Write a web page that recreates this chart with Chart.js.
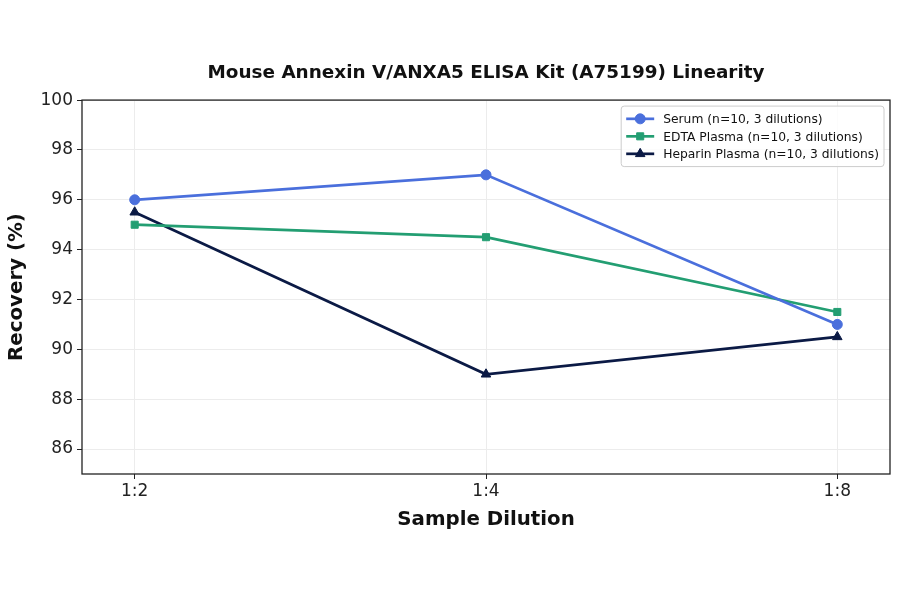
<!DOCTYPE html>
<html lang="en">
<head>
    <meta charset="UTF-8">
    <title>Mouse Annexin V/ANXA5 ELISA Kit (A75199) Linearity</title>
    <script src="https://cdn.jsdelivr.net/npm/chart.js@4.4.0/dist/chart.umd.min.js"></script>
    <style>
        body { margin: 0; background: #fff; }
        #wrap { width: 900px; height: 594px; }
    </style>
</head>
<body>
    <div id="wrap"><canvas id="linChart" width="900" height="594"></canvas></div>
    <script>
        'use strict';

        // dati
        const dilutions = ['1:2', '1:4', '1:8'];
        const serum = [96, 97, 91];
        const edtaPlasma = [95, 94.5, 91.5];
        const heparinPlasma = [95.5, 89, 90.5];
        const yTicks = [86, 88, 90, 92, 94, 96, 98, 100];
        const chartTitle = 'Mouse Annexin V/ANXA5 ELISA Kit (A75199) Linearity';

        const FONT = "'DejaVu Sans', sans-serif";

        const toPoints = vals => vals.map((v, i) => ({ x: i, y: v }));

        // titolo centrato sull'area dei dati (non su tutto il canvas)
        const centeredTitle = {
            id: 'centeredTitle',
            afterDraw(chart) {
                const a = chart.chartArea;
                const ctx = chart.ctx;
                ctx.save();
                ctx.font = 'bold 18.4px ' + FONT;
                ctx.fillStyle = '#111';
                ctx.textAlign = 'center';
                ctx.textBaseline = 'middle';
                ctx.fillText(chartTitle, (a.left + a.right) / 2, a.top - 27);
                ctx.restore();
            }
        };

        // legenda dentro l'area del grafico (alto a destra)
        const innerLegend = {
            id: 'innerLegend',
            afterDraw(chart) {
                const ctx = chart.ctx;
                const area = chart.chartArea;
                const sets = chart.data.datasets;
                ctx.save();
                ctx.font = '12.3px ' + FONT;
                let textW = 0;
                sets.forEach(d => { textW = Math.max(textW, ctx.measureText(d.label).width); });
                const rowH = 17.5;
                const boxW = 5 + 28 + 9 + textW + 5;
                const boxH = sets.length * rowH + 8;
                const bx = area.right - 6 - boxW;
                const by = area.top + 6;
                ctx.fillStyle = 'rgba(255,255,255,0.85)';
                ctx.strokeStyle = '#cccccc';
                ctx.lineWidth = 1;
                ctx.beginPath();
                ctx.roundRect(bx, by, boxW, boxH, 3);
                ctx.fill();
                ctx.stroke();
                sets.forEach((d, i) => {
                    const cy = by + 4 + rowH * i + rowH / 2;
                    const x0 = bx + 5, x1 = x0 + 28;
                    ctx.strokeStyle = d.borderColor;
                    ctx.lineWidth = d.borderWidth;
                    ctx.beginPath();
                    ctx.moveTo(x0, cy);
                    ctx.lineTo(x1, cy);
                    ctx.stroke();
                    ctx.fillStyle = d.backgroundColor;
                    ctx.strokeStyle = d.borderColor;
                    ctx.lineWidth = 1;
                    Chart.helpers.drawPoint(ctx, {
                        pointStyle: d.pointStyle,
                        radius: d.pointRadius,
                        borderWidth: 1
                    }, (x0 + x1) / 2, cy);
                    ctx.fillStyle = '#111';
                    ctx.textBaseline = 'middle';
                    ctx.textAlign = 'left';
                    ctx.fillText(d.label, x1 + 9, cy + 1);
                });
                ctx.restore();
            }
        };

        // cornice completa attorno all'area dei dati
        const frame = {
            id: 'frame',
            afterDatasetsDraw(chart) {
                const a = chart.chartArea;
                const ctx = chart.ctx;
                ctx.save();
                ctx.strokeStyle = '#222';
                ctx.lineWidth = 1.3;
                ctx.strokeRect(a.left, a.top, a.right - a.left, a.bottom - a.top);
                ctx.restore();
            }
        };

        const mkSet = (label, vals, color, style, r) => ({
            label: label,
            data: toPoints(vals),
            borderColor: color,
            backgroundColor: color,
            borderWidth: 2.7,
            pointStyle: style,
            pointRadius: r,
            pointHoverRadius: r,
            pointBorderWidth: 1,
            tension: 0
        });

        new Chart(document.getElementById('linChart').getContext('2d'), {
            type: 'line',
            data: {
                datasets: [
                    mkSet('Serum (n=10, 3 dilutions)', serum, '#4a6fdc', 'circle', 5),
                    mkSet('EDTA Plasma (n=10, 3 dilutions)', edtaPlasma, '#239e72', 'rect', 5),
                    mkSet('Heparin Plasma (n=10, 3 dilutions)', heparinPlasma, '#0b1a45', 'triangle', 5.5)
                ]
            },
            options: {
                responsive: false,
                animation: false,
                layout: { padding: { left: 0, right: 10, top: 0, bottom: 62 } },
                plugins: {
                    legend: { display: false },
                    tooltip: { enabled: false },
                    title: {
                        // riserva lo spazio; il testo lo disegna centeredTitle
                        display: true,
                        text: chartTitle,
                        color: 'rgba(0,0,0,0)',
                        font: { family: FONT, size: 18.4, weight: 'bold' },
                        padding: { top: 62, bottom: 16 }
                    }
                },
                scales: {
                    x: {
                        type: 'linear',
                        min: -0.15,
                        max: 2.15,
                        afterBuildTicks: s => { s.ticks = dilutions.map((_, i) => ({ value: i })); },
                        afterFit: s => { s.height = 58; },
                        ticks: {
                            callback: v => dilutions[v],
                            color: '#222',
                            font: { family: FONT, size: 17 },
                            padding: 2,
                            maxRotation: 0
                        },
                        grid: { color: '#ececec', tickColor: '#222', tickLength: 5, lineWidth: 1 },
                        border: { display: false },
                        title: {
                            display: true,
                            text: 'Sample Dilution',
                            color: '#111',
                            font: { family: FONT, size: 19.8, weight: 'bold' },
                            padding: { top: 8, bottom: 0 }
                        }
                    },
                    y: {
                        min: 85,
                        max: 100,
                        afterBuildTicks: s => { s.ticks = yTicks.map(v => ({ value: v })); },
                        afterFit: s => { s.width = 82; },
                        ticks: {
                            color: '#222',
                            font: { family: FONT, size: 17 },
                            padding: 4
                        },
                        grid: { color: '#ececec', tickColor: '#222', tickLength: 5, lineWidth: 1 },
                        border: { display: false },
                        title: {
                            display: true,
                            text: 'Recovery (%)',
                            color: '#111',
                            font: { family: FONT, size: 19.8, weight: 'bold' },
                            padding: { top: 5, bottom: 0 }
                        }
                    }
                }
            },
            plugins: [frame, innerLegend, centeredTitle]
        });
    </script>
</body>
</html>
